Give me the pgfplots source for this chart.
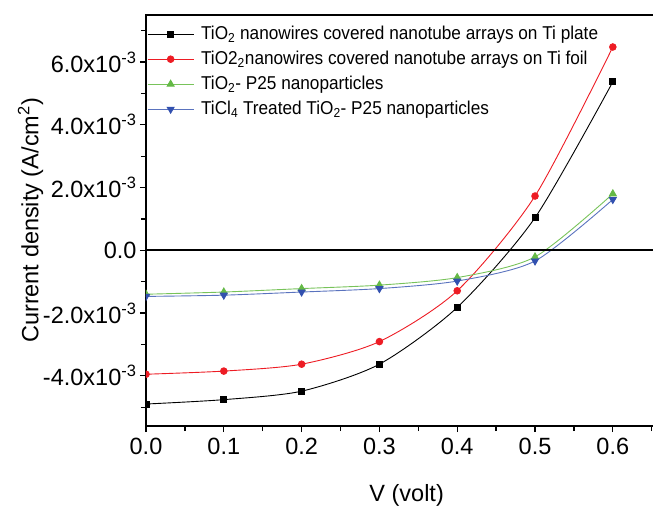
\documentclass[border=0pt]{standalone}
\usepackage{pgfplots}
\pgfplotsset{compat=1.18}
\usepackage{fontspec}
\setmainfont{Liberation Sans}
\newfontfamily\legfont[FakeStretch=0.925]{Liberation Sans}
\definecolor{cred}{RGB}{237,28,36}
\definecolor{cgreen}{RGB}{100,185,70}
\definecolor{cblue}{RGB}{50,80,175}
\definecolor{cgreenl}{RGB}{120,195,90}
\definecolor{cbluel}{RGB}{90,115,190}
\begin{document}
\begin{tikzpicture}
\begin{axis}[
  scale only axis, width=521.3pt, height=411pt,
  xmin=0, xmax=0.67, ymin=-5.6e-3, ymax=7.5e-3,
  xtick pos=bottom, ytick pos=left, tick align=outside,
  xtick={0,0.1,0.2,0.3,0.4,0.5,0.6},
  xticklabels={0.0,0.1,0.2,0.3,0.4,0.5,0.6},
  minor xtick={0.05,0.15,0.25,0.35,0.45,0.55,0.65},
  ytick={-4e-3,-2e-3,0,2e-3,4e-3,6e-3},
  yticklabels={-4.0x10\textsuperscript{-3}\hspace{9pt},-2.0x10\textsuperscript{-3}\hspace{9pt},0.0,2.0x10\textsuperscript{-3}\hspace{9pt},4.0x10\textsuperscript{-3}\hspace{9pt},6.0x10\textsuperscript{-3}\hspace{9pt}},
  minor ytick={-5e-3,-3e-3,-1e-3,1e-3,3e-3,5e-3,7e-3},
  scaled y ticks=false,
  major tick length=6pt, minor tick length=5pt,
  every tick/.style={black, line width=1.3pt},
  axis line style={line width=2pt},
  ticklabel style={font=\fontsize{23.5}{27}\selectfont},
  xticklabel style={yshift=-3pt},
  xlabel={V (volt)},
  xlabel style={at={([yshift=-75.6pt]axis description cs:0.5,0)}, anchor=base, font=\fontsize{23.5}{27}\selectfont},
  ylabel={Current density (A/cm\textsuperscript{2})},
  ylabel style={at={([xshift=-107.5pt]axis description cs:0,0.5)}, anchor=base, rotate=0, font=\fontsize{23.5}{27}\selectfont},
  clip marker paths=true,
  legend image code/.code={\draw[mark repeat=2,mark phase=2,#1] plot coordinates {(0pt,0pt) (23pt,0pt) (46pt,0pt)};},
  legend style={at={([xshift=1pt,yshift=-10pt]axis description cs:0,1)}, anchor=north west, draw=none, fill=none, inner sep=0pt,
    font=\legfont\fontsize{18.6}{22}\selectfont, row sep=7pt, column sep=7pt,
    nodes={inner sep=0pt, text height=14pt, text depth=4pt}},
  legend cell align=left,
]
\addplot[black, line width=0.9pt, smooth, tension=0.45, mark=square*, mark size=3pt] coordinates {(0,-4.90e-3)(0.1,-4.76e-3)(0.2,-4.49e-3)(0.3,-3.63e-3)(0.4,-1.82e-3)(0.5,1.04e-3)(0.6,5.37e-3)};
\addlegendentry{TiO\textsubscript{2} nanowires covered nanotube arrays on Ti plate}
\addplot[cred, line width=0.9pt, smooth, tension=0.45, mark=*, mark size=3.3pt] coordinates {(0,-3.95e-3)(0.1,-3.85e-3)(0.2,-3.63e-3)(0.3,-2.91e-3)(0.4,-1.29e-3)(0.5,1.73e-3)(0.6,6.48e-3)};
\addlegendentry{TiO2\textsubscript{2}nanowires covered nanotube arrays on Ti foil}
\addplot[cgreenl, line width=0.9pt, smooth, tension=0.45, mark=triangle*, mark size=4pt, mark options={cgreen}] coordinates {(0,-1.40e-3)(0.1,-1.33e-3)(0.2,-1.22e-3)(0.3,-1.11e-3)(0.4,-0.87e-3)(0.5,-0.21e-3)(0.6,1.80e-3)};
\addlegendentry{TiO\textsubscript{2}- P25 nanoparticles}
\addplot[cbluel, line width=0.9pt, smooth, tension=0.45, mark=triangle*, mark size=4pt, mark options={cblue, rotate=180}] coordinates {(0,-1.47e-3)(0.1,-1.43e-3)(0.2,-1.33e-3)(0.3,-1.22e-3)(0.4,-0.98e-3)(0.5,-0.34e-3)(0.6,1.62e-3)};
\addlegendentry{TiCl\textsubscript{4} Treated TiO\textsubscript{2}- P25 nanoparticles}
\draw[black, line width=2pt] ({rel axis cs:0,0}|-{axis cs:0,0}) -- ({rel axis cs:1,0}|-{axis cs:0,0});
\end{axis}
\pgfresetboundingbox
\useasboundingbox (-146pt,-80pt) rectangle (507pt,426pt);
\end{tikzpicture}
\end{document}
